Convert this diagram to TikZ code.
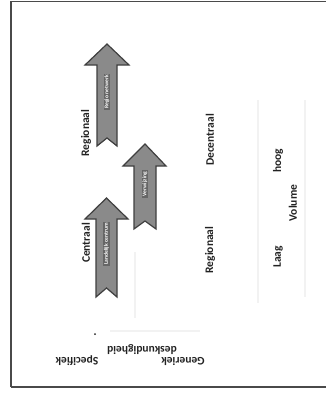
\documentclass[tikz,border=0pt]{standalone}
\usepackage{fontspec}
\setmainfont{Carlito}
\definecolor{arrfill}{HTML}{8A8A8A}
\definecolor{arrline}{HTML}{3F3F3F}
\definecolor{bandcol}{HTML}{666666}
\definecolor{framecol}{HTML}{4A4A4A}
\definecolor{txtcol}{HTML}{222222}
\definecolor{faint}{HTML}{F2F2F2}
\begin{document}
\begin{tikzpicture}[x=1pt,y=-1pt,
  lbl/.style={font=\bfseries\fontsize{11.5}{11.5}\selectfont, text=txtcol, inner sep=0pt},
  axlbl/.style={lbl, rotate=90},
  udlbl/.style={lbl, rotate=180},
  arrowbody/.style={fill=arrfill, draw=arrline, line width=1.2pt, line join=miter},
  band/.style={fill=bandcol, text=white, rotate=90, inner xsep=1.5pt, inner ysep=0.8pt,
    font=\bfseries\fontsize{5.6}{5.6}\selectfont},
  faintline/.style={draw=faint, line width=1.2pt}]
\useasboundingbox (0,0) rectangle (326,399);
\clip (0,0) rectangle (326,399);
% frame
\draw[framecol, line width=1.5pt] (11,387) -- (11,1.5) -- (330,1.5);
\draw[framecol, line width=1.5pt] (11,387) -- (330,387);
% faint traces
\draw[faintline] (258,100) -- (258,303);
\draw[faintline] (305,100) -- (305,297);
\draw[faintline] (135,252) -- (135,318);
\draw[faintline] (110,331) -- (200,331);
% arrow 1
\draw[arrowbody] (96,297) -- (96,219) -- (85,219) -- (106.5,198) -- (128,219) -- (117,219) -- (117,297) -- (106.5,288) -- cycle;
\node[band] (b1) at (106.5,244) {Landelijk centrum};
% arrow 2
\draw[arrowbody] (134,229) -- (134,166) -- (123,166) -- (145,144) -- (166,166) -- (156,166) -- (156,229) -- (145,221) -- cycle;
\node[band] (b2) at (145,184) {Verwijzing};
% arrow 3
\draw[arrowbody] (97,146) -- (97,65) -- (85,65) -- (107,44) -- (129,65) -- (117,65) -- (117,146) -- (107,138) -- cycle;
\node[band] (b3) at (107,92) {Regio netwerk};
% labels
\node[axlbl] (reg1) at (86,133) {Regionaal};
\node[axlbl] (cen) at (86,243) {Centraal};
\node[axlbl] (reg2) at (210,250) {Regionaal};
\node[axlbl] (dec) at (210,140) {Decentraal};
\node[axlbl] (hoog) at (278,161) {hoog};
\node[axlbl] (laag) at (278,257) {Laag};
\node[axlbl] (vol) at (293,203) {Volume};
\node[udlbl] (spec) at (77,361) {Specifiek};
\node[udlbl] (desk) at (142,350) {deskundigheid};
\node[udlbl] (gen) at (183,361) {Generiek};
\fill[txtcol] (95,334) circle (1pt);
\end{tikzpicture}
\end{document}
